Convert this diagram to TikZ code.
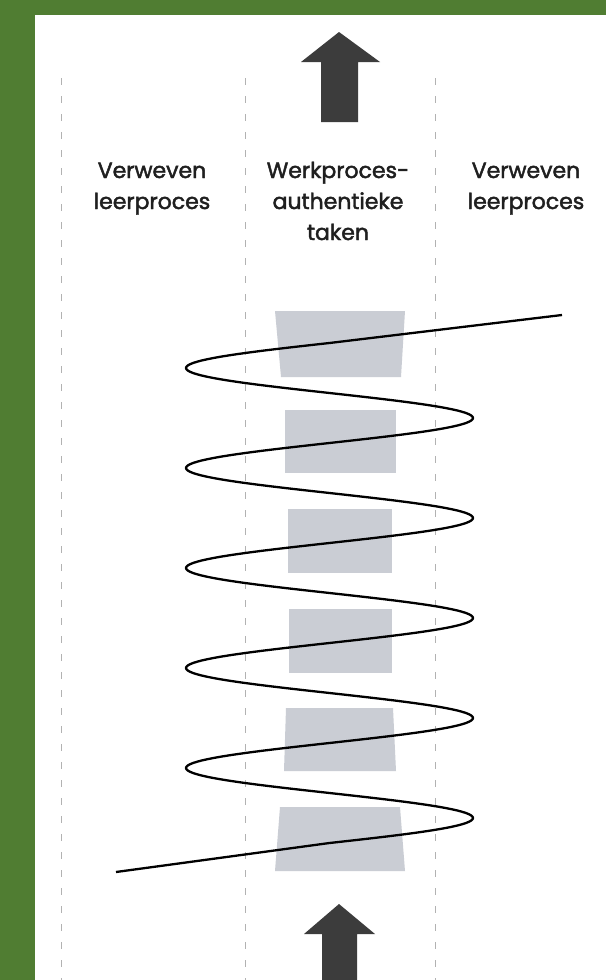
\documentclass[tikz,border=0pt]{standalone}
\usepackage{fontspec}
\setmainfont{Poppins}
\newfontfamily\labelfont{Poppins}[FakeBold=2]
\usetikzlibrary{positioning}
\definecolor{framegreen}{RGB}{80,125,50}
\definecolor{taskgray}{RGB}{202,205,212}
\definecolor{arrowgray}{RGB}{60,60,60}

\begin{document}
\begin{tikzpicture}[x=1pt, y=-1pt,
    label/.style = {align=center, inner sep=0pt, anchor=base,
      text=black!88, font=\labelfont\fontsize{22}{31}\selectfont},
    divider/.style = {draw=black!30, line width=1pt, dash pattern=on 7pt off 11pt},
    task/.style = {fill=taskgray},
    wave/.style = {draw=black, line width=2.3pt, line join=round},
    bigarrow/.style = {fill=arrowgray}]
    \useasboundingbox (0,0) rectangle (606,980);
    \fill[framegreen] (0,0) rectangle (606,980);
    \fill[white] (35,15) rectangle (606,980);

    % taken (grijze blokken)
    \fill[task] (275,311) -- (405,311) -- (401,377) -- (281,377) -- cycle;
    \fill[task] (285,410) rectangle (396,473);
    \fill[task] (288,509) rectangle (392,573);
    \fill[task] (289,609) rectangle (392,673);
    \fill[task] (286,708) -- (393,708) -- (396,771) -- (284,771) -- cycle;
    \fill[task] (280,807) -- (400,807) -- (405,871) -- (275,871) -- cycle;

    % kolommen
    \foreach \xx in {61,245,435}
      \draw[divider] (\xx,78) -- (\xx,980);

    % anchor=base zit op de laatste regel
    \node[label] (lblLeft)  at (152,209) {Verweven\\leerproces};
    \node[label] (lblMid)   at (338,240) {Werkproces-\\authentieke\\taken};
    \node[label] (lblRight) at (526,209) {Verweven\\leerproces};

    % spiraal
    \coordinate (waveTop) at (562,315);
    \coordinate (waveEnd) at (116,872);
    \draw[wave] (waveTop) -- plot[domain=343:843, samples=401]
      ({329.5-143.5*sin((\x-343)*3.6)}, \x) -- (waveEnd);

    % pijlen
    \fill[bigarrow] (339,32) -- (380,62) -- (358,62) -- (358,122)
      -- (321,122) -- (321,62) -- (301,62) -- cycle;
    \fill[bigarrow] (339,904) -- (375,934) -- (357,934) -- (357,980)
      -- (322,980) -- (322,934) -- (304,934) -- cycle;
\end{tikzpicture}
\end{document}
